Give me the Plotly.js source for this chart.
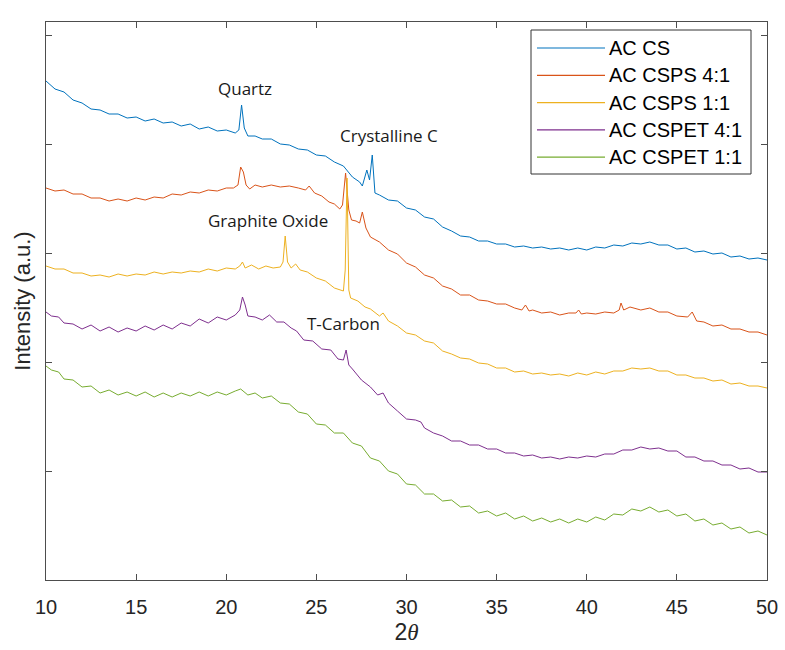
<!DOCTYPE html>
<html>
<head>
<meta charset="utf-8">
<script src="https://cdn.plot.ly/plotly-3.0.1.min.js"></script>
<style>html,body{margin:0;padding:0;background:#fff;}#chart{width:785px;height:650px;}</style>
</head>
<body>
<div id="chart"></div>
<script>
// Series names
var seriesNames = ["AC CS", "AC CSPS 4:1", "AC CSPS 1:1", "AC CSPET 4:1", "AC CSPET 1:1"];

// AC CS
var csX = [10.0,10.5,11.0,11.5,12.0,12.5,13.0,13.5,14.0,14.5,15.0,15.5,16.0,16.5,17.0,17.5,18.0,18.5,19.0,19.5,20.0,20.5,20.7,20.85,21.0,21.2,21.6,22.0,22.5,23.0,23.5,24.0,24.5,25.0,25.5,26.0,26.5,27.0,27.4,27.55,27.8,27.95,28.1,28.25,28.5,29.0,29.5,30.0,30.5,31.0,31.5,32.0,32.5,33.0,33.5,34.0,34.5,35.0,35.5,36.0,36.5,37.0,37.5,38.0,38.5,39.0,39.5,40.0,40.5,41.0,41.5,42.0,42.5,43.0,43.5,44.0,44.5,45.0,45.5,46.0,46.5,47.0,47.5,48.0,48.5,49.0,49.5,50.0];
var csY = [499,491,488,480,477,471,470,466,466,462,463,459,461,457,458,454,456,451,453,449,450,447,450,475,452,444,444,441,441,436,435,431,430,425,424,418,414,403,398,394,410,400,425,387,385,380,379,372,370,363,361,353,349,344,343,339,339,336,336,333,334,332,333,331,332,330,332,330,333,332,335,334,337,336,338,335,335,331,332,328,329,326,327,323,324,321,322,320];

// AC CSPS 4:1
var ps41X = [10.0,10.5,11.0,11.5,12.0,12.5,13.0,13.5,14.0,14.5,15.0,15.5,16.0,16.5,17.0,17.5,18.0,18.5,19.0,19.5,20.0,20.4,20.65,20.8,20.95,21.1,21.3,21.6,22.0,22.5,23.0,23.5,24.0,24.4,24.6,24.9,25.3,25.7,26.0,26.3,26.45,26.62,26.8,26.95,27.2,27.4,27.55,27.75,28.0,28.5,29.0,29.5,30.0,30.5,31.0,31.5,32.0,32.5,33.0,33.5,34.0,34.5,35.0,35.5,36.0,36.4,36.6,36.8,37.0,37.5,38.0,38.5,39.0,39.4,39.55,39.7,40.0,40.5,41.0,41.5,41.8,41.9,42.05,42.4,43.0,43.5,44.0,44.5,45.0,45.6,45.85,46.1,46.5,47.0,47.5,48.0,48.5,49.0,49.5,50.0];
var ps41Y = [392,389,390,386,386,382,382,379,381,379,382,380,383,382,386,385,388,387,390,389,392,392,395,413,408,395,391,395,393,395,393,394,392,390,394,387,384,378,376,371,375,407,370,360,359,357,368,352,343,338,330,326,317,313,305,302,294,291,285,285,280,279,276,276,272,270,275,269,270,267,268,265,267,267,270,266,267,266,268,267,270,277,270,273,270,272,268,268,264,263,268,259,258,254,255,251,251,248,248,245];

// AC CSPS 1:1
var ps11X = [10.0,10.5,11.0,11.5,12.0,12.5,13.0,13.5,14.0,14.5,15.0,15.5,16.0,16.5,17.0,17.5,18.0,18.5,19.0,19.5,20.0,20.5,20.75,20.9,21.05,21.4,21.8,22.2,22.6,23.0,23.15,23.27,23.4,23.6,23.85,24.1,24.5,25.0,25.5,26.0,26.5,26.6,26.7,26.8,26.9,27.3,27.7,28.0,28.5,28.7,29.0,29.5,30.0,30.5,31.0,31.5,32.0,32.5,33.0,33.5,34.0,34.5,35.0,35.5,36.0,36.5,37.0,37.5,38.0,38.5,39.0,39.5,40.0,40.5,41.0,41.5,42.0,42.5,43.0,43.5,44.0,44.5,45.0,45.5,46.0,46.5,47.0,47.5,48.0,48.5,49.0,49.5,50.0];
var ps11Y = [314,311,311,307,307,304,305,303,306,304,306,305,308,306,308,307,309,308,311,309,312,311,314,318,312,315,311,314,312,313,318,344,318,312,316,310,308,302,299,292,289,310,402,290,282,279,273,271,264,267,259,254,247,245,239,237,229,226,222,221,217,216,212,212,208,209,206,207,205,206,204,207,205,208,206,209,209,212,211,212,209,209,205,205,202,202,199,200,196,197,194,194,192];

// AC CSPET 4:1
var pet41X = [10.0,10.3,10.7,11.0,11.5,12.0,12.5,13.0,13.5,14.0,14.5,15.0,15.5,16.0,16.5,17.0,17.5,18.0,18.5,19.0,19.5,20.0,20.5,20.75,20.9,21.05,21.2,21.6,22.0,22.4,22.8,23.2,23.6,23.9,24.3,24.8,25.3,25.8,26.2,26.5,26.65,26.8,27.0,27.5,28.0,28.4,28.7,29.0,29.5,30.0,30.5,30.8,31.0,31.5,32.0,32.5,33.0,33.5,34.0,34.5,35.0,35.5,36.0,36.5,37.0,37.5,38.0,38.5,39.0,39.5,40.0,40.5,41.0,41.5,42.0,42.5,43.0,43.5,44.0,44.5,45.0,45.5,46.0,46.5,47.0,47.5,48.0,48.5,49.0,49.5,50.0];
var pet41Y = [268,264,263,257,256,251,255,249,253,248,252,249,254,250,255,251,257,254,261,257,263,260,265,270,283,275,264,263,260,265,258,258,252,249,240,239,231,230,221,220,230,215,211,200,193,185,187,177,169,161,160,158,152,147,144,139,139,135,135,131,131,127,127,124,125,122,123,121,123,122,124,123,126,126,130,130,133,131,132,129,129,123,123,119,119,115,115,111,112,108,108];

// AC CSPET 1:1
var pet11X = [10.0,10.3,10.7,11.0,11.5,12.0,12.5,13.0,13.5,14.0,14.5,15.0,15.5,16.0,16.5,17.0,17.5,18.0,18.5,19.0,19.5,20.0,20.5,20.8,21.2,21.6,22.0,22.5,23.0,23.5,24.0,24.5,25.0,25.5,26.0,26.5,27.0,27.5,28.0,28.5,29.0,29.5,30.0,30.5,31.0,31.5,32.0,32.5,33.0,33.5,34.0,34.5,35.0,35.5,36.0,36.5,37.0,37.5,38.0,38.5,39.0,39.5,40.0,40.5,41.0,41.5,42.0,42.5,43.0,43.5,44.0,44.5,45.0,45.5,46.0,46.5,47.0,47.5,48.0,48.5,49.0,49.5,50.0];
var pet11Y = [214,210,208,201,200,193,194,187,190,185,188,184,188,183,187,183,187,184,188,184,188,185,189,191,185,187,182,184,177,176,168,166,156,155,147,147,137,134,122,119,109,106,96,95,86,86,79,80,73,74,67,69,64,67,61,64,59,62,58,61,57,61,58,63,60,66,65,71,69,73,68,70,64,66,59,61,55,57,51,53,47,49,45];

// Tick values (vertical, unlabeled) and x ticks
var xTicks = [10,15,20,25,30,35,40,45,50];
var yTicks = [0,109,218,327,436,545];

// Peak labels
var peakLabels = ["Quartz", "Crystalline C", "Graphite Oxide", "T-Carbon"];
var peakLabelX = [21.04, 29.03, 22.32, 26.48];
var peakLabelY = [492, 445, 360, 257];

var colors = ["#0072BD", "#D95319", "#EDB120", "#7E2F8E", "#77AC30"];
var xs = [csX, ps41X, ps11X, pet41X, pet11X];
var ys = [csY, ps41Y, ps11Y, pet41Y, pet11Y];

var W = 785, H = 650, M = {l: 46, r: 18, t: 22, b: 70};
var pw = W - M.l - M.r, ph = H - M.t - M.b;
function px2x(p){ return (p - M.l) / pw; }
function py2y(p){ return (H - M.b - p) / ph; }

var traces = seriesNames.map(function(n, i){
  return {x: xs[i], y: ys[i], type: 'scatter', mode: 'lines', name: n,
          line: {color: colors[i], width: 1}, showlegend: false};
});

var annotations = peakLabels.map(function(t, i){
  return {x: peakLabelX[i], y: peakLabelY[i], xref: 'x', yref: 'y', text: t, showarrow: false,
          font: {family: 'Open Sans, Noto Sans, sans-serif', size: 17, color: '#1a1a1a'}};
});

// Legend (box, sample lines, labels)
var shapes = [{type: 'rect', xref: 'paper', yref: 'paper',
               x0: px2x(531), x1: px2x(751), y0: py2y(174), y1: py2y(30),
               line: {color: '#333333', width: 1}, fillcolor: '#ffffff', layer: 'above'}];
seriesNames.forEach(function(n, i){
  var yy = py2y(48 + i * 27.3);
  shapes.push({type: 'line', xref: 'paper', yref: 'paper', x0: px2x(537), x1: px2x(605), y0: yy, y1: yy,
               line: {color: colors[i], width: 1.2}, layer: 'above'});
  annotations.push({xref: 'paper', yref: 'paper', x: px2x(607), y: yy, xanchor: 'left', yanchor: 'middle',
                    text: n, showarrow: false,
                    font: {family: 'Liberation Sans, Arial, sans-serif', size: 20, color: '#000'}});
});

var axisColor = '#4d4d4d';
var layout = {
  width: W, height: H,
  margin: M,
  paper_bgcolor: '#ffffff', plot_bgcolor: '#ffffff',
  showlegend: false,
  xaxis: {range: [10, 50], tickvals: xTicks, ticks: 'inside', ticklen: 6, tickcolor: axisColor,
          showline: true, linecolor: axisColor, linewidth: 1, mirror: 'ticks', showgrid: false, zeroline: false,
          ticklabelstandoff: 9,
          tickfont: {family: 'Liberation Sans, Arial, sans-serif', size: 20, color: '#262626'},
          title: {text: '2<span style="font-family:Liberation Serif, Times New Roman, serif"><i>θ</i></span>',
                  font: {family: 'Liberation Sans, Arial, sans-serif', size: 23, color: '#262626'}, standoff: 6}},
  yaxis: {range: [0, 558], tickvals: yTicks, ticks: 'inside', ticklen: 6, tickcolor: axisColor,
          showticklabels: false,
          showline: true, linecolor: axisColor, linewidth: 1, mirror: 'ticks', showgrid: false, zeroline: false,
          title: {text: 'Intensity (a.u.)', font: {family: 'Liberation Sans, Arial, sans-serif', size: 22, color: '#262626'}, standoff: 8}},
  annotations: annotations,
  shapes: shapes
};

Plotly.newPlot('chart', traces, layout, {displayModeBar: false, staticPlot: true});
</script>
</body>
</html>
